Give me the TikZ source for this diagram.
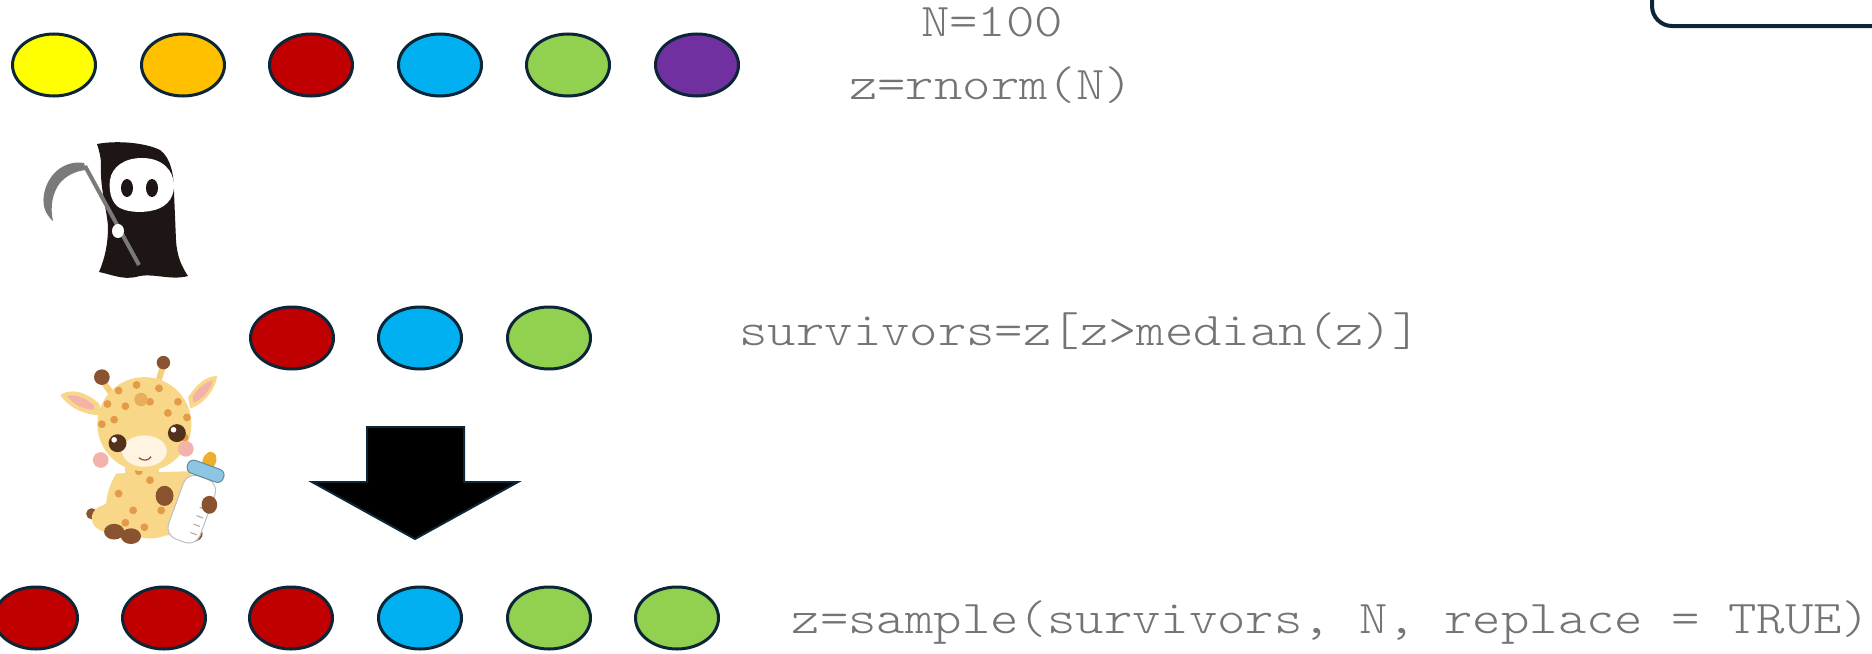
\documentclass[tikz,border=0pt]{standalone}
\usepackage{fontspec}
\newfontfamily\codefont{lmmonolt10-regular.otf}[FakeStretch=1.15]
\usetikzlibrary{shapes.geometric}
\definecolor{navy}{HTML}{0C2637}
\definecolor{codegray}{HTML}{747474}
\definecolor{cyellow}{HTML}{FFFF00}
\definecolor{corange}{HTML}{FFC000}
\definecolor{cred}{HTML}{C00000}
\definecolor{cblue}{HTML}{00B0F0}
\definecolor{cgreen}{HTML}{92D050}
\definecolor{cpurple}{HTML}{7030A0}
\definecolor{robe}{HTML}{1E1614}
\definecolor{scythe}{HTML}{7A7A7A}
\definecolor{gskin}{HTML}{F8D888}
\definecolor{gspot}{HTML}{E49A48}
\definecolor{gbrown}{HTML}{8A5330}
\definecolor{gpink}{HTML}{F3B2AA}
\definecolor{gcream}{HTML}{FFF3E2}
\definecolor{bring}{HTML}{8CC6E2}
\definecolor{bnip}{HTML}{F0AE2E}
\tikzset{
  dot/.style={ellipse, draw=navy, line width=1.5pt, minimum width=41.5pt,
    minimum height=31pt, inner sep=0pt},
  code/.style={font=\codefont\fontsize{23.5pt}{28pt}\selectfont, text=codegray,
    inner sep=0pt, anchor=base},
}
\begin{document}
\begin{tikzpicture}[x=0.5pt, y=-0.5pt]
\useasboundingbox (0,0) rectangle (1872,653);

% corner of a frame at the top right
\draw[navy, line width=2pt, rounded corners=10pt] (1900,26) -- (1652,26) -- (1652,-30);

% initial population
\node[dot, fill=cyellow] (t1) at (54,65) {};
\node[dot, fill=corange] (t2) at (183,65) {};
\node[dot, fill=cred]    (t3) at (311,65) {};
\node[dot, fill=cblue]   (t4) at (440,65) {};
\node[dot, fill=cgreen]  (t5) at (568,65) {};
\node[dot, fill=cpurple] (t6) at (697,65) {};

% survivors
\node[dot, fill=cred]   (m1) at (292,338) {};
\node[dot, fill=cblue]  (m2) at (420,338) {};
\node[dot, fill=cgreen] (m3) at (549,338) {};

% next generation
\node[dot, fill=cred]   (b1) at (36,618) {};
\node[dot, fill=cred]   (b2) at (164,618) {};
\node[dot, fill=cred]   (b3) at (291,618) {};
\node[dot, fill=cblue]  (b4) at (420,618) {};
\node[dot, fill=cgreen] (b5) at (549,618) {};
\node[dot, fill=cgreen] (b6) at (677,618) {};

% code
\node[code] (n) at (992,36) {N=100};
\node[code] (zr) at (991,99) {z=rnorm(N)};
\node[code] (sv) at (1080,345) {survivors=z[z>median(z)]};
\node[code] (sm) at (1331,633) {z=sample(survivors, N, replace = TRUE)};

% block arrow
\draw[navy, line width=1pt, fill=black, line join=miter]
  (367,427) -- (464,427) -- (464,482) -- (518,482) -- (415,539)
  -- (312,482) -- (367,482) -- cycle;

% grim reaper: scythe blade and handle
\fill[scythe] (84,163) .. controls (66,160) and (50,172) .. (45,190)
  .. controls (41,204) and (45,214) .. (53,221)
  .. controls (50,208) and (52,193) .. (60,183)
  .. controls (67,175) and (76,171) .. (86,170) -- cycle;
% robe
\fill[robe] (97,144) .. controls (118,140) and (146,143) .. (160,150)
  .. controls (171,158) and (174,175) .. (174,192)
  -- (176,240) .. controls (177,257) and (182,267) .. (188,276)
  .. controls (170,281) and (152,272) .. (136,277)
  .. controls (122,280) and (110,274) .. (99,272)
  .. controls (105,258) and (108,244) .. (108,226)
  .. controls (106,205) and (100,188) .. (101,165)
  .. controls (101,157) and (99,150) .. (97,144) -- cycle;
\draw[scythe, line width=2pt] (85,166) -- (139,265);
% skull face
\fill[white] (142,158) .. controls (162,158) and (174,170) .. (174,186)
  .. controls (174,200) and (164,209) .. (150,211)
  .. controls (140,213) and (124,212) .. (117,206)
  .. controls (110,199) and (109,189) .. (110,180)
  .. controls (112,167) and (124,158) .. (142,158) -- cycle;
\fill[robe] (127,188) ellipse [x radius=6, y radius=9];
\fill[robe] (152,188) ellipse [x radius=6, y radius=9];
\fill[white] (118,231) ellipse [x radius=6, y radius=7];

% baby giraffe
\begin{scope}[shift={(150,460)}, scale=1.12, shift={(-150,-460)}]
% tail
\draw[gskin!80!gspot, line width=2pt] (112,500) .. controls (105,505) and (100,508) .. (98,508);
\fill[gbrown] (98,508) circle [radius=5];
% body
\fill[gskin] (120,472) .. controls (108,490) and (108,515) .. (118,526)
  -- (190,528) .. controls (200,515) and (198,490) .. (185,470) -- cycle;
% hind legs and hooves
\fill[gskin] (112,512) ellipse [x radius=14, y radius=12];
\fill[gbrown] (118,524) ellipse [x radius=9, y radius=7];
\fill[gskin] (150,518) ellipse [x radius=22, y radius=12];
\fill[gbrown] (133,528) ellipse [x radius=9, y radius=7];
\fill[gbrown] (188,526) ellipse [x radius=9, y radius=7];
% neck
\fill[gskin] (128,455) rectangle (158,485);
% spots on body
\foreach \p in {(122,490),(135,505),(150,478),(145,520),(160,505),(128,516),(140,470)}
  \fill[gspot] \p circle [radius=3.5];
% ears
\fill[gskin] (105,410) .. controls (92,398) and (78,396) .. (70,402)
  .. controls (78,414) and (92,420) .. (106,420) -- cycle;
\fill[gpink] (100,411) .. controls (90,403) and (82,401) .. (76,403)
  .. controls (82,411) and (91,415) .. (100,415) -- cycle;
\fill[gskin] (184,404) .. controls (192,392) and (200,385) .. (210,385)
  .. controls (208,398) and (198,410) .. (186,414) -- cycle;
\fill[gpink] (188,403) .. controls (194,395) and (199,391) .. (206,389)
  .. controls (204,398) and (197,405) .. (189,409) -- cycle;
% ossicones
\draw[gskin!85!gspot, line width=3pt] (115,400) -- (107,388);
\fill[gbrown] (107,386) circle [radius=7];
\draw[gskin!85!gspot, line width=3pt] (158,388) -- (162,375);
\fill[gbrown] (162,373) circle [radius=6];
% head
\fill[gskin] (145,428) ellipse [x radius=42, y radius=42];
\foreach \p in {(112,410),(122,398),(138,393),(158,396),(175,408),(183,422),
  (107,428),(128,412),(150,408),(166,418),(118,424),(181,440)}
  \fill[gspot] \p circle [radius=3.5];
\fill[gspot!70!gskin] (142,406) circle [radius=6];
% face
\fill[gpink] (106,460) circle [radius=7];
\fill[gpink] (182,450) circle [radius=7];
\fill[gcream] (145,452) ellipse [x radius=20, y radius=14];
\draw[gbrown, line width=0.6pt] (140,458) .. controls (144,461) and (148,461) .. (151,457);
\fill[gbrown!60!black] (121,445) circle [radius=8];
\fill[gbrown!60!black] (174,436) circle [radius=8];
\fill[white] (118,442) circle [radius=2.5];
\fill[white] (171,433) circle [radius=2.5];
% bottle
\begin{scope}[shift={(188,502)}, rotate=-20]
  \fill[bnip] (0,-52) .. controls (6,-52) and (7,-44) .. (5,-38) -- (-5,-38)
    .. controls (-7,-44) and (-6,-52) .. (0,-52) -- cycle;
  \filldraw[draw=black!25, fill=white, line width=0.5pt, rounded corners=6pt]
    (-15,-28) rectangle (15,32);
  \filldraw[draw=bring!70!black, fill=bring, line width=0.5pt, rounded corners=3pt]
    (-17,-40) rectangle (17,-28);
  \foreach \k in {-10,-2,6,14,22}
    \draw[black!35, line width=0.5pt] (6,\k) -- (12,\k);
\end{scope}
% front hooves holding the bottle
\fill[gbrown] (163,492) ellipse [x radius=8, y radius=9];
\fill[gbrown] (203,500) ellipse [x radius=7, y radius=8];
\end{scope}
\end{tikzpicture}
\end{document}
